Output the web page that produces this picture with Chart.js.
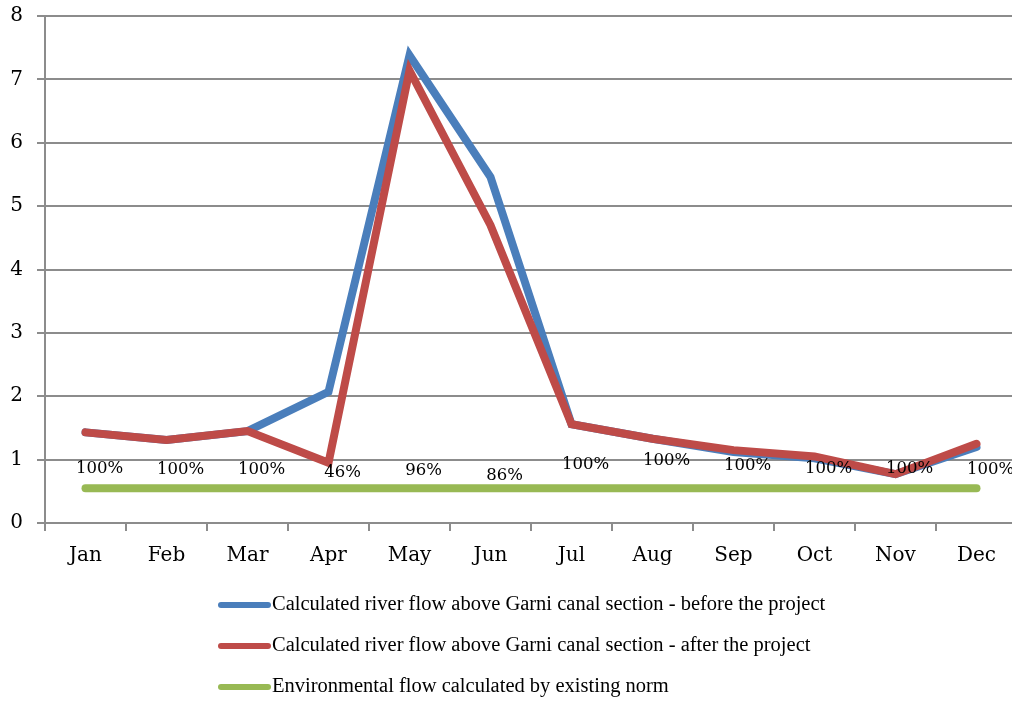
<!DOCTYPE html>
<html>
<head>
<meta charset="utf-8">
<style>
  html, body { margin: 0; padding: 0; background: #fff; overflow: hidden; }
  #wrap { width: 1022px; height: 702px; }
</style>
<script src="https://cdn.jsdelivr.net/npm/chart.js@4/dist/chart.umd.min.js"></script>
</head>
<body>
<div id="wrap"><canvas id="c" width="1022" height="702"></canvas></div>
<script>
const months = ['Jan', 'Feb', 'Mar', 'Apr', 'May', 'Jun', 'Jul', 'Aug', 'Sep', 'Oct', 'Nov', 'Dec'];
const beforeProject = [1.43, 1.31, 1.45, 2.07, 7.38, 5.46, 1.56, 1.33, 1.12, 1.02, 0.77, 1.20];
const afterProject  = [1.43, 1.31, 1.45, 0.95, 7.14, 4.70, 1.56, 1.33, 1.15, 1.05, 0.77, 1.25];
const envFlow       = [0.55, 0.55, 0.55, 0.55, 0.55, 0.55, 0.55, 0.55, 0.55, 0.55, 0.55, 0.55];
const pctLabels     = ['100%', '100%', '100%', '46%', '96%', '86%', '100%', '100%', '100%', '100%', '100%', '100%'];
const pctLabelLevel = [0.85, 0.84, 0.84, 0.80, 0.82, 0.74, 0.92, 0.99, 0.91, 0.85, 0.85, 0.84];
const yTicks = [0, 1, 2, 3, 4, 5, 6, 7, 8];

const seriesNames = [
  'Calculated river flow above Garni canal section - before the project',
  'Calculated river flow above Garni canal section - after the project',
  'Environmental flow calculated by existing norm'
];

const GRID = '#8c8c8c';
const SERIF = '"DejaVu Serif", "Liberation Serif", serif';

const pctLabelPlugin = {
  id: 'pctLabels',
  afterDatasetsDraw(chart) {
    const ctx = chart.ctx;
    const xs = chart.scales.x, ys = chart.scales.y;
    ctx.save();
    ctx.font = '16.5px ' + SERIF;
    ctx.fillStyle = '#000';
    ctx.textAlign = 'center';
    ctx.textBaseline = 'middle';
    pctLabels.forEach((t, i) => {
      ctx.fillText(t, xs.getPixelForValue(i) + 14, ys.getPixelForValue(pctLabelLevel[i]));
    });
    ctx.restore();
  }
};

const legendPlugin = {
  id: 'vertLegend',
  afterDraw(chart) {
    const ctx = chart.ctx;
    ctx.save();
    ctx.font = '20.5px "Liberation Serif", serif';
    ctx.textBaseline = 'middle';
    ctx.textAlign = 'left';
    chart.data.datasets.forEach((ds, i) => {
      const y = 605 + 41 * i;
      ctx.strokeStyle = ds.borderColor;
      ctx.lineWidth = 6;
      ctx.lineCap = 'round';
      ctx.beginPath();
      ctx.moveTo(221, y);
      ctx.lineTo(268, y);
      ctx.stroke();
      ctx.fillStyle = '#000';
      ctx.fillText(ds.label, 272, y);
    });
    ctx.restore();
  }
};

new Chart(document.getElementById('c'), {
  type: 'line',
  data: {
    labels: months,
    datasets: [
      { label: seriesNames[0], data: beforeProject, borderColor: '#4a7ebb', order: 1 },
      { label: seriesNames[1], data: afterProject, borderColor: '#be4b48', order: 0 },
      { label: seriesNames[2], data: envFlow, borderColor: '#98b954', order: 2 }
    ].map(d => Object.assign(d, {
      borderWidth: 8, pointRadius: 0, tension: 0, fill: false,
      borderCapStyle: 'round', borderJoinStyle: 'miter'
    }))
  },
  options: {
    responsive: false,
    animation: false,
    layout: { padding: { left: 0, top: 16, right: 5, bottom: 0 } },
    plugins: { legend: { display: false }, tooltip: { enabled: false } },
    scales: {
      x: {
        offset: true,
        afterFit(s) { s.height = 179; s.paddingLeft = 0; s.paddingRight = 0; },
        grid: { offset: true, drawOnChartArea: false, drawTicks: true, tickLength: 8, color: GRID, lineWidth: 2 },
        border: { color: GRID, width: 2 },
        ticks: { color: '#000', font: { family: SERIF, size: 20 }, padding: 13, maxRotation: 0 }
      },
      y: {
        min: 0, max: 8,
        afterFit(s) { s.width = 45; s.paddingTop = 0; s.paddingBottom = 0; },
        afterBuildTicks(s) { s.ticks = yTicks.map(v => ({ value: v })); },
        grid: { color: GRID, lineWidth: 2, tickLength: 8 },
        border: { color: GRID, width: 2 },
        ticks: { color: '#000', font: { family: SERIF, size: 20 }, padding: 14 }
      }
    }
  },
  plugins: [pctLabelPlugin, legendPlugin]
});
</script>
</body>
</html>
